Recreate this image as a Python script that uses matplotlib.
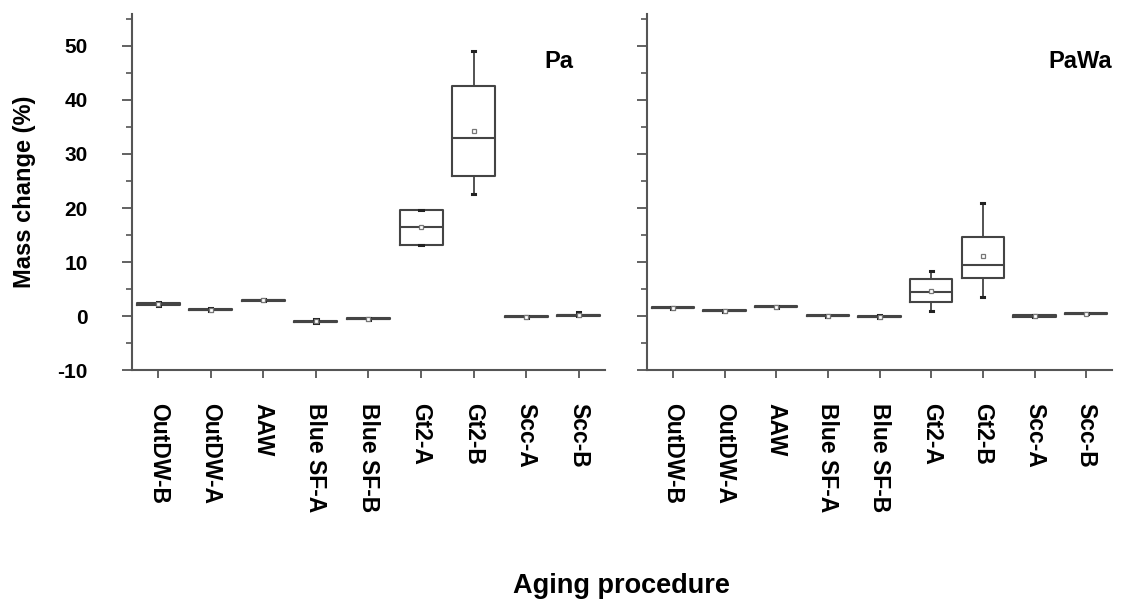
import matplotlib
matplotlib.use("Agg")
import matplotlib.pyplot as plt
from matplotlib.ticker import MultipleLocator

categories = ["OutDW-B", "OutDW-A", "AAW", "Blue SF-A", "Blue SF-B",
              "Gt2-A", "Gt2-B", "Scc-A", "Scc-B"]
y_ticks = [-10, 0, 10, 20, 30, 40, 50]
y_tick_labels = ["-10", "0", "10", "20", "30", "40", "50"]

# Panel "Pa"
pa_med  = [2.2, 1.2, 2.9, -1.1, -0.5, 16.4, 32.9, -0.1, 0.1]
pa_q1   = [2.0, 1.1, 2.8, -1.2, -0.6, 13.1, 25.9, -0.2, 0.0]
pa_q3   = [2.4, 1.3, 3.0, -1.0, -0.4, 19.7, 42.6, 0.0, 0.2]
pa_lo   = [1.9, 1.0, 2.7, -1.3, -0.7, 13.1, 22.5, -0.3, 0.0]
pa_hi   = [2.6, 1.4, 3.1, -0.5, -0.3, 19.7, 49.0, 0.0, 0.7]
pa_mean = [2.3, 1.2, 2.9, -1.0, -0.5, 16.4, 34.2, -0.1, 0.2]

# Panel "PaWa"
pw_med  = [1.5, 1.0, 1.7, 0.05, -0.1, 4.45, 9.45, 0.0, 0.45]
pw_q1   = [1.4, 0.9, 1.6, 0.0, -0.2, 2.65, 7.05, -0.1, 0.4]
pw_q3   = [1.6, 1.1, 1.8, 0.1, 0.0, 6.8, 14.6, 0.1, 0.5]
pw_lo   = [1.3, 0.8, 1.5, -0.1, -0.3, 0.9, 3.6, -0.2, 0.3]
pw_hi   = [1.7, 1.2, 1.9, 0.2, 0.1, 8.4, 21.0, 0.2, 0.6]
pw_mean = [1.5, 1.0, 1.7, 0.05, -0.1, 4.7, 11.2, 0.0, 0.45]

plt.rcParams['font.family'] = ['Liberation Sans', 'DejaVu Sans']
plt.rcParams['font.weight'] = 'bold'

fig = plt.figure(figsize=(11.3, 5.99), dpi=100)
ax1 = fig.add_axes([0.1168, 0.3823, 0.4186, 0.595])
ax2 = fig.add_axes([0.5726, 0.3823, 0.4115, 0.595])

line_col = '#444444'

def make_stats(med, q1, q3, lo, hi, mean):
    return [dict(med=m, q1=a, q3=b, whislo=l, whishi=h, mean=mn, fliers=[])
            for m, a, b, l, h, mn in zip(med, q1, q3, lo, hi, mean)]

panels = [
    (ax1, make_stats(pa_med, pa_q1, pa_q3, pa_lo, pa_hi, pa_mean), "Pa", 8.9),
    (ax2, make_stats(pw_med, pw_q1, pw_q3, pw_lo, pw_hi, pw_mean), "PaWa", 9.5),
]

for ax, stats, label, lx in panels:
    ax.bxp(stats, positions=range(1, len(categories) + 1), widths=0.82,
           showmeans=True, showfliers=False, capwidths=0.06,
           boxprops=dict(color=line_col, linewidth=1.5),
           medianprops=dict(color=line_col, linewidth=1.5),
           whiskerprops=dict(color=line_col, linewidth=1.3),
           capprops=dict(color='#222222', linewidth=2.2),
           meanprops=dict(marker='s', markersize=3.5, markerfacecolor='white',
                          markeredgecolor='#777777', markeredgewidth=0.9))
    ax.set_xlim(0.5, len(categories) + 0.5)
    ax.set_ylim(-10, 56)
    ax.spines['top'].set_visible(False)
    ax.spines['right'].set_visible(False)
    for s in ('left', 'bottom'):
        ax.spines[s].set_color('#555555')
        ax.spines[s].set_linewidth(1.5)
    ax.set_yticks(y_ticks)
    ax.yaxis.set_minor_locator(MultipleLocator(5))
    ax.tick_params(axis='y', which='major', direction='out', length=7,
                   width=1.3, color='#555555', labelsize=15, pad=25)
    ax.tick_params(axis='y', which='minor', direction='out', length=4,
                   width=1.2, color='#555555')
    ax.tick_params(axis='x', which='major', direction='out', length=6,
                   width=1.3, color='#555555', labelsize=16.5, pad=18)
    ax.set_xticks(range(1, len(categories) + 1))
    ax.set_xticklabels(categories, rotation=270, va='top', ha='center',
                       fontweight='bold')
    ax.text(lx, 47.2, label, ha='right', va='center', fontsize=17,
            fontweight='bold')

ax1.set_yticklabels(y_tick_labels, fontweight='bold')
ax2.tick_params(axis='y', labelleft=False)

fig.text(0.022, 0.679, "Mass change (%)", rotation=90, ha='center',
         va='center', fontsize=17, fontweight='bold')
fig.text(0.55, 0.022, "Aging procedure", ha='center', va='center',
         fontsize=19.5, fontweight='bold')

fig.savefig("out.png", dpi=100)
